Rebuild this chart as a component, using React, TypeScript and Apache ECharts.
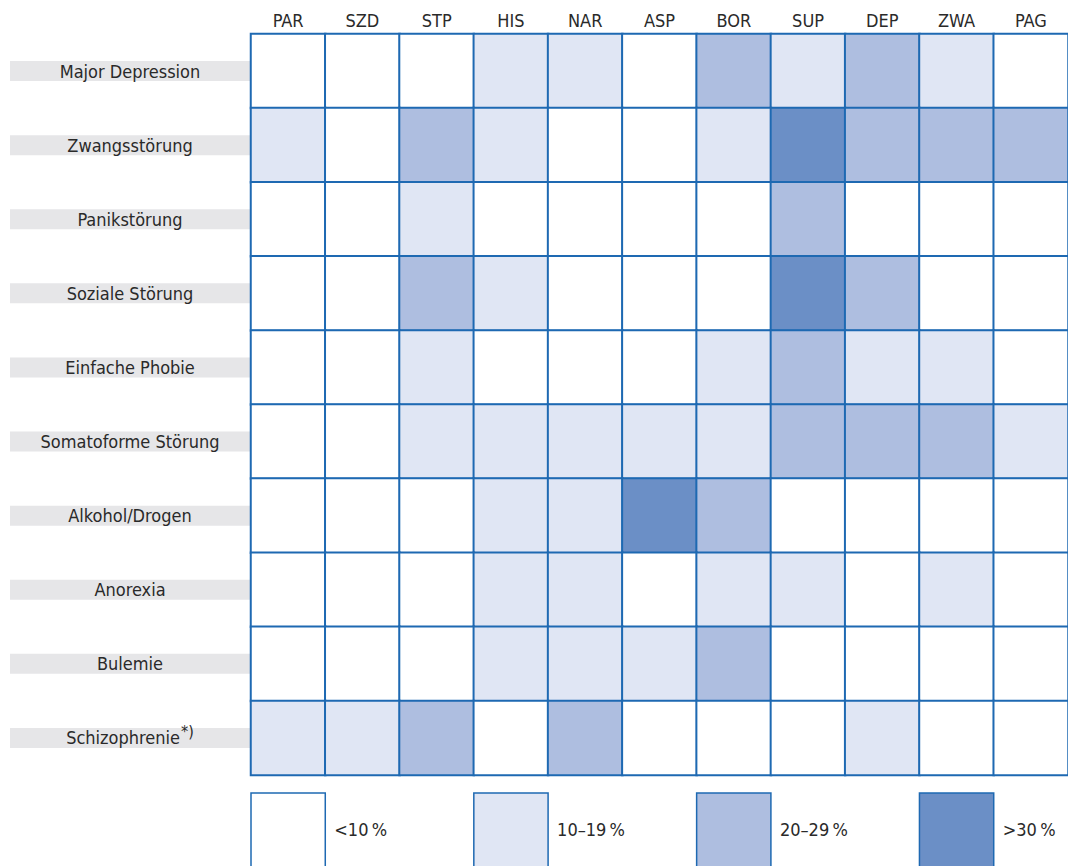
import React, { useEffect, useRef } from "react";
import * as echarts from "echarts";

const columns = ["PAR", "SZD", "STP", "HIS", "NAR", "ASP", "BOR", "SUP", "DEP", "ZWA", "PAG"];
const rows = [
  "Major Depression",
  "Zwangsstörung",
  "Panikstörung",
  "Soziale Störung",
  "Einfache Phobie",
  "Somatoforme Störung",
  "Alkohol/Drogen",
  "Anorexia",
  "Bulemie",
  "Schizophrenie*)",
];
// class index: 0 = <10 %, 1 = 10–19 %, 2 = 20–29 %, 3 = >30 %
const classes = [
  [0, 0, 0, 1, 1, 0, 2, 1, 2, 1, 0],
  [1, 0, 2, 1, 0, 0, 1, 3, 2, 2, 2],
  [0, 0, 1, 0, 0, 0, 0, 2, 0, 0, 0],
  [0, 0, 2, 1, 0, 0, 0, 3, 2, 0, 0],
  [0, 0, 1, 0, 0, 0, 1, 2, 1, 1, 0],
  [0, 0, 1, 1, 1, 1, 1, 2, 2, 2, 1],
  [0, 0, 0, 1, 1, 3, 2, 0, 0, 0, 0],
  [0, 0, 0, 1, 1, 0, 1, 1, 0, 1, 0],
  [0, 0, 0, 1, 1, 1, 2, 0, 0, 0, 0],
  [1, 1, 2, 0, 2, 0, 0, 0, 1, 0, 0],
];
const legendLabels = ["<10\u2009%", "10–19\u2009%", "20–29\u2009%", ">30\u2009%"];
const classColors = ["#FFFFFF", "#E0E6F4", "#AEBEE0", "#6B8FC6"];

const FONT = "'DejaVu Sans Condensed', Roboto, sans-serif";
const BORDER = "#1E69B2";
const TEXT = "#2a2a2a";

export default function App() {
  const ref = useRef<HTMLDivElement>(null);
  useEffect(() => {
    if (!ref.current) return;
    const chart = echarts.init(ref.current, undefined, { renderer: "svg" });
    const data: number[][] = [];
    rows.forEach((_, r) => columns.forEach((_, c) => data.push([c, r, classes[r][c]])));

    const gridLeft = 251;
    const gridTop = 34;
    const gridW = 1068 - gridLeft;
    const cellW = gridW / columns.length;
    const legendTop = 793;

    const graphic: any[] = [];
    legendLabels.forEach((lab, i) => {
      const x = gridLeft + i * 3 * cellW;
      graphic.push({
        type: "rect",
        shape: { x: x, y: legendTop, width: cellW, height: 90 },
        style: { fill: classColors[i], stroke: BORDER, lineWidth: 1.5 },
      });
      graphic.push({
        type: "text",
        x: x + cellW + 9,
        y: 829,
        style: { text: lab, font: `18px ${FONT}`, fill: TEXT, textVerticalAlign: "middle" },
      });
    });

    chart.setOption({
      animation: false,
      grid: { left: gridLeft, right: 0, top: gridTop, bottom: 866 - 775 },
      xAxis: {
        type: "category",
        data: columns,
        position: "top",
        axisLine: { show: false },
        axisTick: { show: false },
        splitLine: { show: false },
        axisLabel: { fontFamily: FONT, fontSize: 18, color: TEXT, margin: 5 },
      },
      yAxis: {
        type: "category",
        data: rows,
        inverse: true,
        axisLine: { show: false },
        axisTick: { show: false },
        splitLine: { show: false },
        axisLabel: {
          margin: 121,
          align: "center",
          width: 240,
          height: 20,
          lineHeight: 20,
          backgroundColor: "#E6E6E8",
          fontFamily: FONT,
          fontSize: 18,
          color: TEXT,
          formatter: (v: string) =>
            v.endsWith("*)") ? `${v.slice(0, -2)}{sup|*)}` : v,
          rich: {
            sup: { fontFamily: FONT, fontSize: 16, color: TEXT, padding: [0, 0, 12, 1], lineHeight: 20 },
          },
        },
      },
      visualMap: {
        type: "piecewise",
        show: false,
        dimension: 2,
        pieces: classColors.map((c, i) => ({ value: i, color: c })),
      },
      series: [
        {
          type: "heatmap",
          data,
          itemStyle: { borderColor: BORDER, borderWidth: 2 },
          emphasis: { disabled: true },
        },
      ],
      graphic,
    });
    return () => chart.dispose();
  }, []);
  return (
    <div
      ref={ref}
      style={{ position: "fixed", left: 0, top: 0, width: 1068, height: 866, background: "#fff" }}
    />
  );
}
